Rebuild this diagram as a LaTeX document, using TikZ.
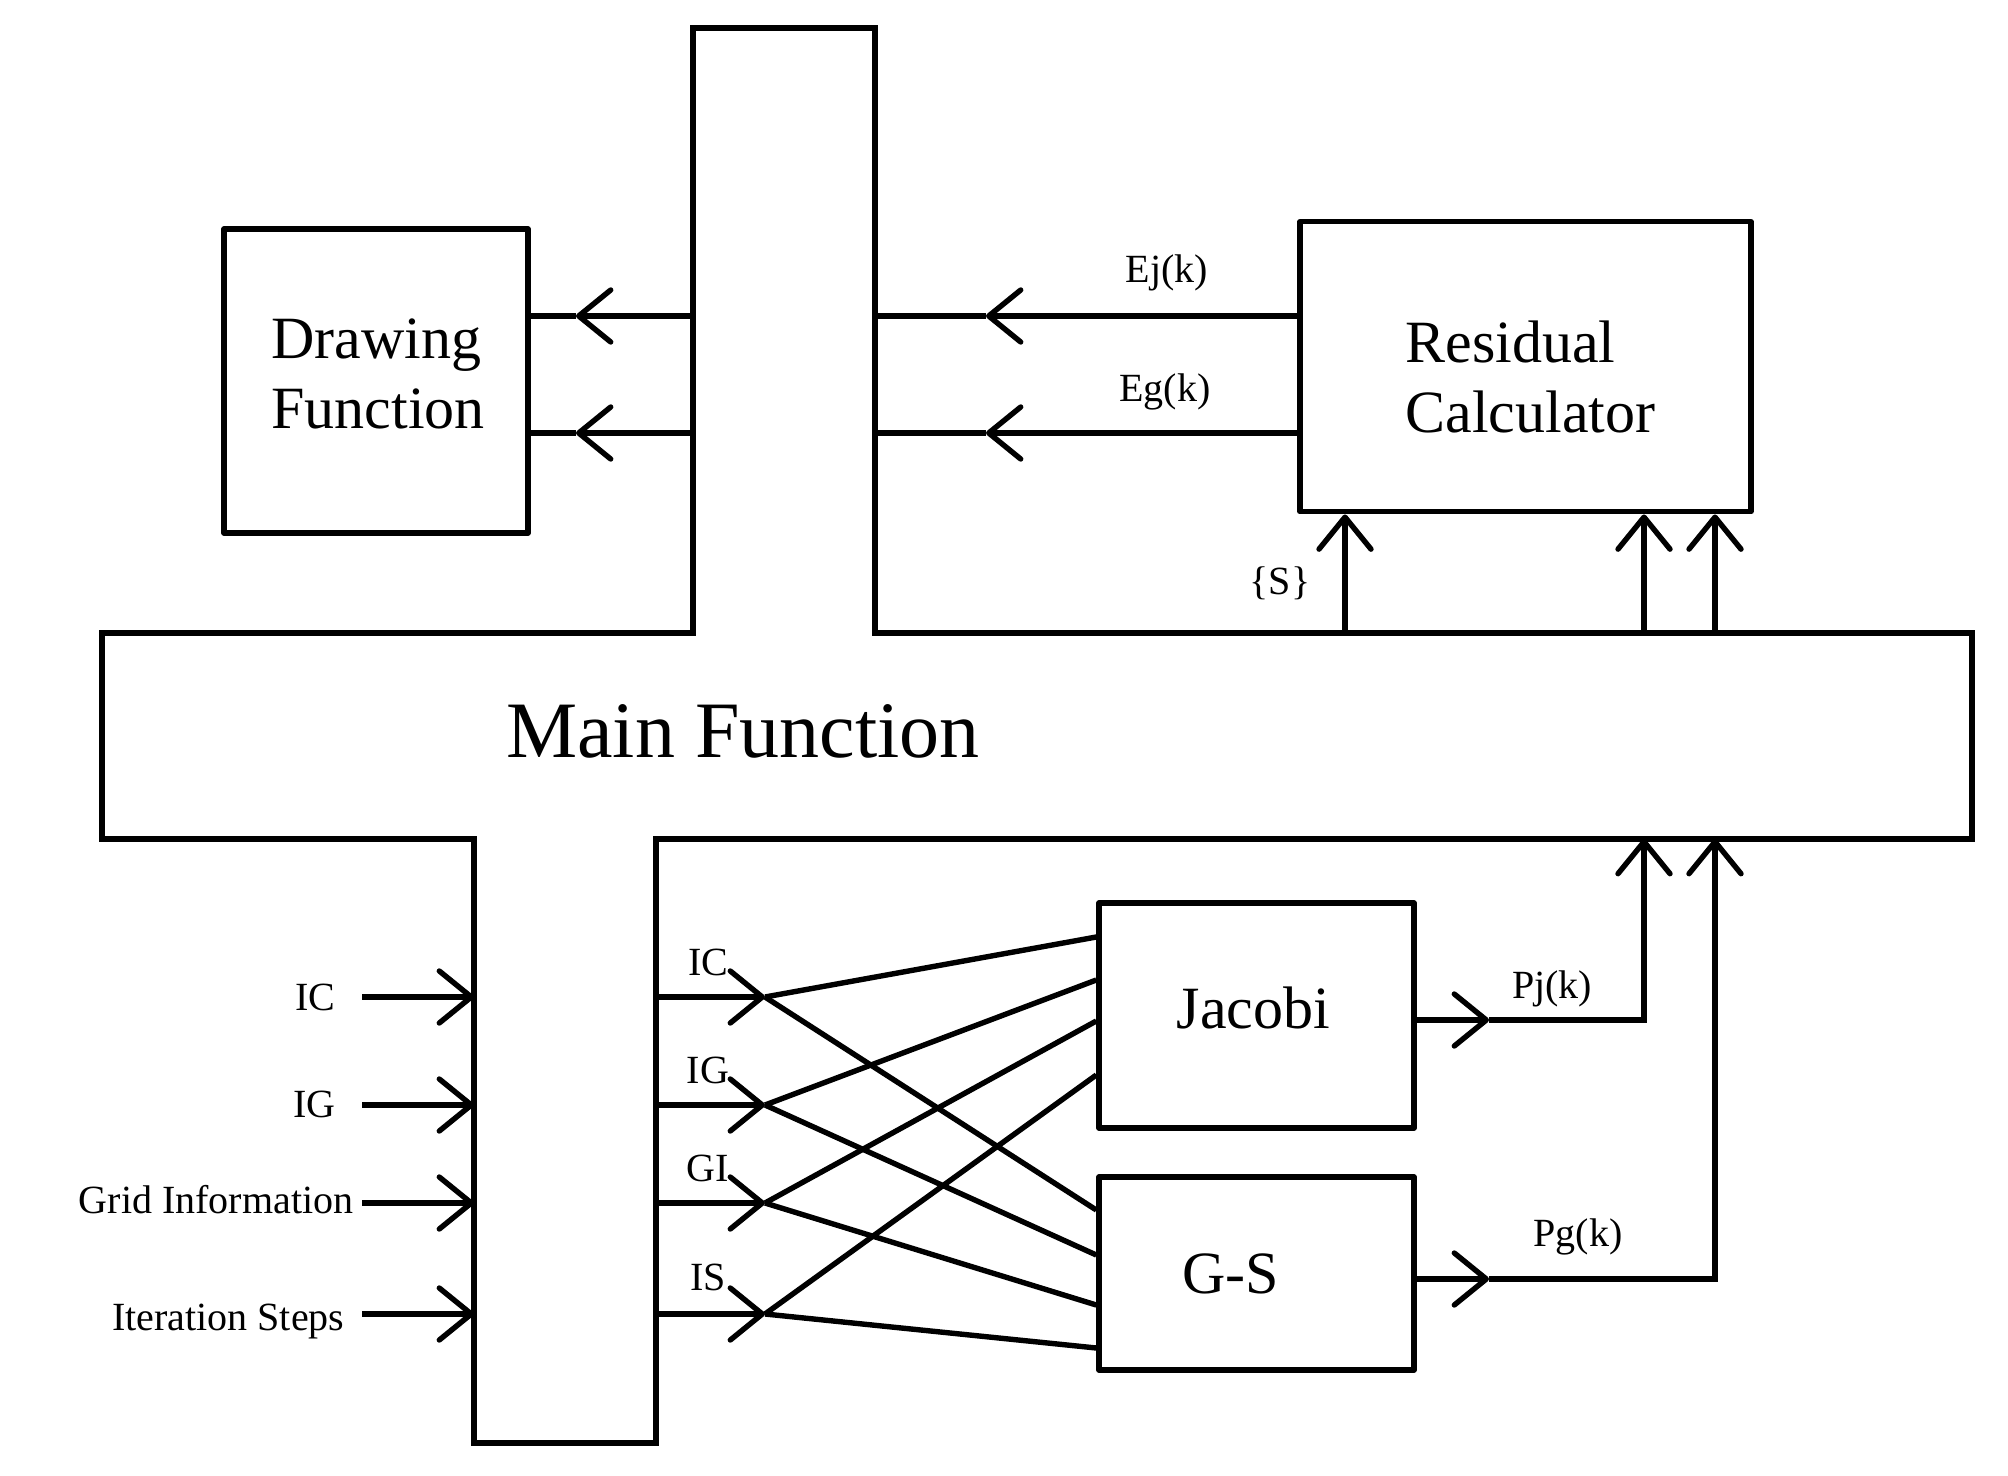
\documentclass[tikz,border=0pt]{standalone}
\usepackage{fontspec}
\setmainfont{Liberation Serif}
\usetikzlibrary{arrows.meta,positioning}
\tikzset{
  ar/.style={-{Straight Barb[length=16pt,width=26pt,round]},line width=2.7pt},
  box/.style={draw,line width=2.7pt,line join=round,rectangle,inner sep=0pt},
  boxtxt/.style={align=left,inner sep=0pt,font=\fontsize{30}{35}\selectfont},
  lbl/.style={font=\fontsize{20}{22}\selectfont,inner sep=0pt}
}
\begin{document}
\begin{tikzpicture}[x=0.5pt,y=-0.5pt,line width=2.7pt]
\useasboundingbox (0,0) rectangle (2008,1476);
% main function outline
\draw[line join=miter] (693,28) -- (875,28) -- (875,633) -- (1972,633) -- (1972,839)
  -- (656,839) -- (656,1443) -- (474,1443) -- (474,839) -- (102,839) -- (102,633)
  -- (693,633) -- cycle;
\node[font=\fontsize{40}{44}\selectfont] (main) at (743,731) {Main Function};

\node[box,minimum width=152pt,minimum height=152pt] (drw) at (376,381) {};
\node[boxtxt] (drwT) at ([xshift=1pt,yshift=3.5pt]drw.center) {Drawing\\Function};
\node[box,minimum width=225.5pt,minimum height=145pt] (res) at (1525.5,366.75) {};
\node[boxtxt] (resT) at ([xshift=2.5pt,yshift=-5pt]res.center) {Residual\\Calculator};
\node[box,minimum width=157.5pt,minimum height=112.5pt] (jac) at (1256.5,1015.5) {};
\node[boxtxt] (jacT) at ([xshift=-1.5pt,yshift=4pt]jac.center) {Jacobi};
\node[box,minimum width=157.5pt,minimum height=96.5pt] (gs) at (1256.5,1273.5) {};
\node[boxtxt] (gsT) at ([xshift=-13pt]gs.center) {G-S};

% residual -> main
\coordinate (ejT) at (986,316);
\coordinate (egT) at (986,433);
\coordinate (ejM) at (875,316);
\coordinate (egM) at (875,433);
\draw[ar] (res.west |- ejT) -- (ejT);
\draw (ejT) -- (ejM);
\draw[ar] (res.west |- egT) -- (egT);
\draw (egT) -- (egM);
\node[lbl] (ej) at (1167,273) {Ej(k)};
\node[lbl] (eg) at (1165,392) {Eg(k)};

% main -> drawing
\coordinate (d1M) at (693,316);
\coordinate (d2M) at (693,433);
\coordinate (d1T) at (576,316);
\coordinate (d2T) at (576,433);
\draw[ar] (d1M) -- (d1T);
\draw (d1T) -- (drw.east |- d1T);
\draw[ar] (d2M) -- (d2T);
\draw (d2T) -- (drw.east |- d2T);

% main -> residual
\coordinate (s1) at (1345,633);
\coordinate (s2) at (1644,633);
\coordinate (s3) at (1715,633);
\foreach \s in {s1,s2,s3}
  \draw[ar] (\s) -- (res.south -| \s);
\node[lbl] (sset) at (1280,583) {\{S\}};

% solvers -> main
\coordinate (pjT) at (1489,1020);
\coordinate (pjU) at (1644,839);
\coordinate (pgT) at (1489,1279);
\coordinate (pgU) at (1715,839);
\draw[ar] (jac.east |- pjT) -- (pjT);
\draw[ar] (pjT) -| (pjU);
\draw[ar] (gs.east |- pgT) -- (pgT);
\draw[ar] (pgT) -| (pgU);
\node[lbl] (pj) at (1552,989) {Pj(k)};
\node[lbl] (pg) at (1578,1237) {Pg(k)};

% inputs
\foreach \n/\t/\x/\y/\ty in {ic/IC/338/997/997,ig/IG/338/1105/1104,gi/Grid Information/356/1203/1200,is/Iteration Steps/347/1314/1322}{
  \node[lbl,anchor=east] (l\n) at (\x,\ty) {\t};
  \coordinate (b\n) at (362,\y);
  \coordinate (i\n) at (474,\y);
  \draw[ar] (b\n) -- (i\n);
}

% stem outputs
\foreach \n/\t/\y/\ly in {ic/IC/997/962,ig/IG/1105/1070,gi/GI/1203/1168,is/IS/1314/1277}{
  \coordinate (o\n) at (656,\y);
  \coordinate (t\n) at (765,\y);
  \draw[ar] (o\n) -- (t\n);
  \node[lbl] (m\n) at (708,\ly) {\t};
}
\draw (tic) -- (jac.west |- 0,937);
\draw (tic) -- (gs.west |- 0,1210);
\draw (tig) -- (jac.west |- 0,980);
\draw (tig) -- (gs.west |- 0,1255);
\draw (tgi) -- (jac.west |- 0,1021);
\draw (tgi) -- (gs.west |- 0,1305);
\draw (tis) -- (jac.west |- 0,1075);
\draw (tis) -- (gs.west |- 0,1348);
\end{tikzpicture}
\end{document}
